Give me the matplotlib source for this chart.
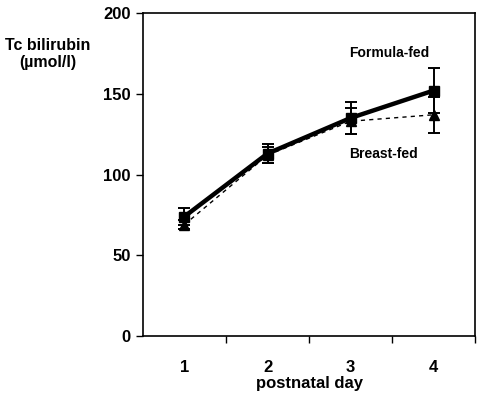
import matplotlib.pyplot as plt

days = [1, 2, 3, 4]
formula_fed = [74, 113, 135, 152]
formula_err = [5, 6, 10, 14]
breast_fed = [69, 112, 133, 137]
breast_err = [3, 5, 8, 11]

plt.rcParams['font.family'] = ['Liberation Sans', 'DejaVu Sans']
plt.rcParams['font.weight'] = 'bold'

fig = plt.figure(figsize=(4.78, 3.94), dpi=100)
ax = fig.add_axes([0.299, 0.147, 0.695, 0.820])

ax.errorbar(days, breast_fed, yerr=breast_err, fmt='^', ls=(0, (3, 3)), lw=1.0,
            color='black', ms=6.5, capsize=4.5, elinewidth=1.4, capthick=1.4, zorder=2)
ax.errorbar(days, formula_fed, yerr=formula_err, fmt='s', ls='-', lw=3.2,
            color='black', ms=6.5, capsize=4.5, elinewidth=1.4, capthick=1.4, zorder=3)

ax.text(3.47, 175, 'Formula-fed', ha='center', va='center', fontsize=10, fontweight='bold')
ax.text(3.40, 113, 'Breast-fed', ha='center', va='center', fontsize=10, fontweight='bold')

ax.set_xlim(0.5, 4.5)
ax.set_ylim(0, 200)
ax.set_yticks([0, 50, 100, 150, 200])
ax.set_xticks([1.5, 2.5, 3.5, 4.5])
ax.set_xticklabels([])
ax.set_xticks(days, minor=True)
ax.set_xticklabels([str(d) for d in days], minor=True)
ax.tick_params(axis='x', which='minor', length=0, pad=17, labelsize=12)
ax.tick_params(axis='x', which='major', length=5, width=1, direction='out')
ax.tick_params(axis='y', length=5, width=1, direction='out', labelsize=12, pad=4)
for lbl in ax.get_xticklabels(minor=True) + ax.get_yticklabels():
    lbl.set_fontweight('bold')
for s in ax.spines.values():
    s.set_linewidth(1.2)

ax.set_xlabel('postnatal day', fontsize=12, fontweight='bold', labelpad=1)
fig.text(0.099, 0.863, 'Tc bilirubin\n(\u00b5mol/l)', ha='center', va='center',
         fontsize=11.5, fontweight='bold', linespacing=1.2)

fig.savefig('out.png', dpi=100)
